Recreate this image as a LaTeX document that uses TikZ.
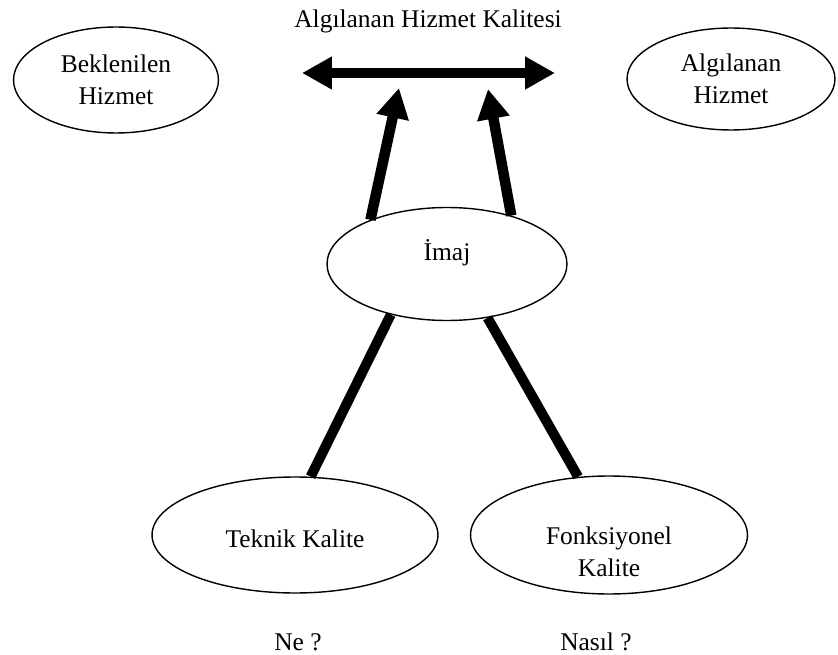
\documentclass[tikz,border=0pt]{standalone}
\usepackage{fontspec}
\setmainfont{Liberation Serif}
\usepackage{xcolor}
\usepackage{tikz}
\usetikzlibrary{arrows.meta,shapes.geometric}

% text set at a given baseline offset inside an oval
\newcommand{\kaydir}[2]{\raisebox{#1}[0pt][0pt]{\begin{tabular}[b]{@{}c@{}}#2\end{tabular}}}

\begin{document}
\begin{tikzpicture}[x=0.02cm,y=-0.02cm,
    oval/.style={draw,ellipse,line width=0.8pt,inner sep=0pt,align=center,
      font=\fontsize{14.5}{18.5}\selectfont},
    label text/.style={font=\fontsize{14.5}{18.5}\selectfont},
    bigarrow/.style={line width=0.21cm,-{Triangle[length=0.6cm,width=0.62cm]}},
    bar/.style={line width=0.2cm}]
    \useasboundingbox (0,0) rectangle (838,655);

    \node[oval,minimum width=4.1cm,minimum height=2.12cm] (bek) at (116,80) {Beklenilen\\Hizmet};
    \node[oval,minimum width=4.16cm,minimum height=2.04cm] (alg) at (731,79) {Algılanan\\Hizmet};
    \node[oval,minimum width=4.8cm,minimum height=2.26cm] (imaj) at (447,264) {\kaydir{0.08cm}{İmaj}};
    \node[oval,minimum width=5.72cm,minimum height=2.32cm] (teknik) at (295,535) {\kaydir{-0.24cm}{Teknik Kalite}};
    \node[oval,minimum width=5.54cm,minimum height=2.36cm] (fonk) at (609,535) {\kaydir{-0.84cm}{Fonksiyonel\\Kalite}};

    \node[label text,anchor=base] (baslik) at (428,28) {Algılanan Hizmet Kalitesi};
    \node[label text,anchor=base] (ne) at (298,650) {Ne ?};
    \node[label text,anchor=base] (nasil) at (596,650) {Nasıl ?};

    \coordinate (sol) at (302,73);
    \coordinate (sag) at (555,73);
    \coordinate (ucsol) at (399,88);
    \coordinate (ucsag) at (488,89);

    \draw[bigarrow,{Triangle[length=0.6cm,width=0.62cm]}-{Triangle[length=0.6cm,width=0.62cm]}] (sol) -- (sag);
    \draw[bigarrow] (imaj.150) -- (ucsol);
    \draw[bigarrow] (imaj.37) -- (ucsag);

    \draw[bar] (imaj.222) -- (teknik.75);
    \draw[bar] (imaj.307) -- (fonk.118);
  \end{tikzpicture}
\end{document}
